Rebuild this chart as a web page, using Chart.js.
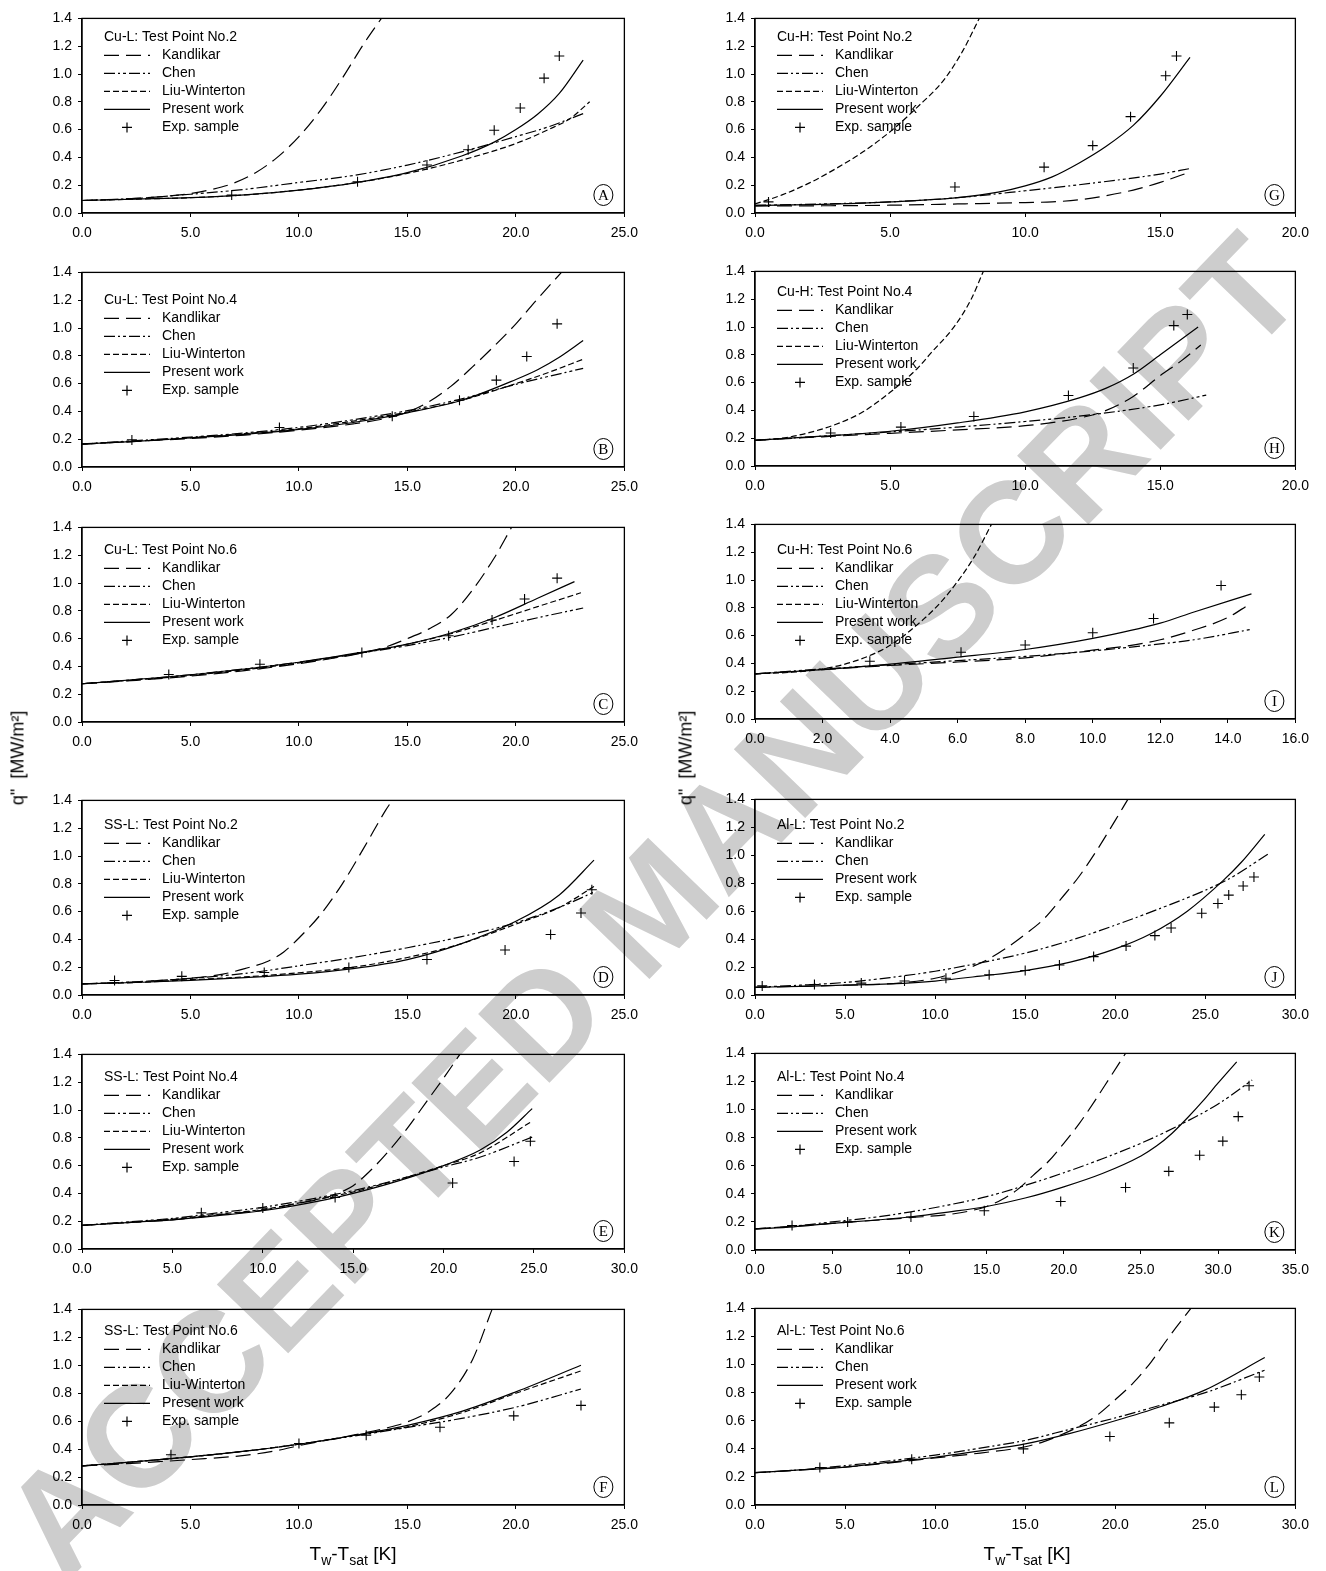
<!DOCTYPE html>
<html>
<head>
<meta charset="utf-8">
<script src="https://cdn.jsdelivr.net/npm/chart.js@4.4.1/dist/chart.umd.min.js"></script>
<style>
  html, body { margin: 0; padding: 0; background: #fff; }
  body { width: 1326px; height: 1571px; position: relative; overflow: hidden;
         font-family: "Liberation Sans", Arial, Helvetica, sans-serif; }
  canvas { position: absolute; z-index: 2; }
  .wm { position: absolute; left: 652px; top: 906px; z-index: 1; white-space: nowrap;
        font: bold 144px "Liberation Sans", Arial, sans-serif; color: #cdcdcd;
        transform: translate(-50%, -50%) rotate(-46deg); }
  .ytitle { position: absolute; z-index: 3; white-space: nowrap; font-size: 18px; color: #000;
            transform: translate(-50%, -50%) rotate(-90deg); }
  .xtitle { position: absolute; z-index: 3; white-space: nowrap; font-size: 19px; color: #000;
            transform: translate(-50%, -50%); }
  .xtitle sub { font-size: 14px; vertical-align: -5px; }
</style>
</head>
<body>
<div class="wm">ACCEPTED MANUSCRIPT</div>
<div class="ytitle" style="left:18px; top:758px;">q"&nbsp; [MW/m²]</div>
<div class="ytitle" style="left:686px; top:758px;">q"&nbsp; [MW/m²]</div>
<div class="xtitle" style="left:353px; top:1555px;">T<sub>w</sub>-T<sub>sat</sub> [K]</div>
<div class="xtitle" style="left:1027px; top:1555px;">T<sub>w</sub>-T<sub>sat</sub> [K]</div>

<script>
// ---- heat flux q" [MW/m2] versus wall superheat Tw-Tsat [K], pairs of [dT, q] ----

// Cu-L, test point 2
const A_kand = [[0,0.09],[2.5,0.105],[5,0.14],[6,0.17],[7,0.215],[8,0.29],[9,0.4],[10,0.55],[11,0.74],[12,0.97],[13,1.22],[13.8,1.4]];
const A_chen = [[0,0.09],[2.5,0.105],[5,0.135],[7.5,0.17],[10,0.22],[12.5,0.27],[15,0.345],[17.5,0.44],[20,0.55],[21.5,0.62],[23.1,0.715]];
const A_lw   = [[0,0.09],[2.5,0.1],[5,0.11],[7.5,0.13],[10,0.165],[12.5,0.215],[15,0.285],[17.5,0.38],[20,0.5],[21.5,0.6],[22.5,0.68],[23.4,0.8]];
const A_pw   = [[0,0.09],[2.5,0.1],[5,0.11],[7.5,0.13],[10,0.165],[12.5,0.215],[15,0.29],[17.5,0.41],[19,0.51],[20,0.6],[21,0.71],[22,0.86],[23.1,1.1]];
const A_exp  = [[6.9,0.13],[12.7,0.225],[15.9,0.345],[17.8,0.455],[19.0,0.595],[20.2,0.755],[21.3,0.97],[22.0,1.13]];

// Cu-L, test point 4
const B_kand = [[0,0.165],[2.5,0.185],[5,0.205],[7.5,0.23],[10,0.265],[12.5,0.31],[14,0.35],[15,0.395],[16,0.47],[17,0.58],[18,0.72],[19,0.87],[20,1.03],[21,1.21],[22.1,1.4]];
const B_chen = [[0,0.165],[2.5,0.19],[5,0.215],[7.5,0.245],[10,0.285],[12.5,0.34],[15,0.405],[17.5,0.49],[20,0.595],[23.1,0.71]];
const B_lw   = [[0,0.165],[2.5,0.185],[5,0.21],[7.5,0.24],[10,0.275],[12.5,0.33],[15,0.395],[17.5,0.48],[20,0.6],[21.5,0.68],[23.1,0.775]];
const B_pw   = [[0,0.165],[2.5,0.185],[5,0.21],[7.5,0.235],[10,0.27],[12.5,0.32],[15,0.39],[17.5,0.48],[20,0.63],[21,0.7],[22,0.79],[23.1,0.91]];
const B_exp  = [[2.3,0.195],[9.1,0.284],[14.3,0.365],[17.4,0.48],[19.1,0.625],[20.5,0.795],[21.9,1.03]];

// Cu-L, test point 6
const C_kand = [[0,0.275],[2.5,0.3],[5,0.33],[7.5,0.37],[10,0.42],[12,0.47],[13,0.5],[14,0.54],[15,0.6],[16,0.67],[17,0.77],[18,0.95],[19,1.18],[19.8,1.4]];
const C_chen = [[0,0.275],[5,0.34],[10,0.43],[13,0.5],[15,0.55],[17,0.61],[19,0.68],[21,0.75],[23.1,0.82]];
const C_lw   = [[0,0.275],[5,0.335],[10,0.425],[13,0.5],[15,0.56],[17,0.635],[19,0.73],[21,0.83],[23,0.93]];
const C_pw   = [[0,0.275],[5,0.34],[10,0.43],[13,0.505],[15,0.56],[17,0.64],[19,0.75],[21,0.89],[22.7,1.01]];
const C_exp  = [[4.0,0.342],[8.2,0.416],[12.9,0.5],[16.9,0.62],[18.9,0.734],[20.4,0.885],[21.9,1.035]];

// SS-L, test point 2
const D_kand = [[0,0.08],[2.5,0.095],[5,0.12],[6.5,0.15],[7.5,0.19],[8.6,0.245],[9.3,0.31],[10,0.41],[11,0.58],[12,0.8],[13,1.06],[14,1.33],[14.3,1.4]];
const D_chen = [[0,0.08],[2.5,0.095],[5,0.12],[7.5,0.155],[10,0.21],[12.5,0.27],[15,0.34],[17.5,0.42],[20,0.52],[22,0.63],[23.6,0.74]];
const D_lw   = [[0,0.08],[2.5,0.09],[5,0.11],[7.5,0.13],[10,0.16],[12.5,0.2],[15,0.27],[17.5,0.37],[20,0.51],[22,0.63],[23.6,0.78]];
const D_pw   = [[0,0.08],[2.5,0.09],[5,0.105],[7.5,0.125],[10,0.15],[12.5,0.19],[15,0.255],[17.5,0.37],[20,0.53],[22,0.72],[23.6,0.97]];
const D_exp  = [[1.5,0.104],[4.6,0.134],[8.4,0.162],[12.3,0.197],[15.9,0.255],[19.5,0.324],[21.6,0.435],[23.0,0.59],[23.5,0.757]];

// SS-L, test point 4
const E_kand = [[0,0.17],[2.5,0.19],[5,0.21],[7.5,0.245],[10,0.28],[12,0.33],[13.5,0.37],[14.5,0.42],[15,0.455],[16,0.57],[17,0.71],[18,0.87],[19,1.05],[20,1.23],[20.9,1.4]];
const E_chen = [[0,0.17],[2.5,0.195],[5,0.22],[7.5,0.26],[10,0.3],[13.5,0.38],[15,0.42],[17.5,0.5],[20,0.59],[22,0.66],[24.9,0.805]];
const E_lw   = [[0,0.17],[2.5,0.19],[5,0.215],[7.5,0.25],[10,0.285],[13.5,0.37],[15,0.41],[17.5,0.5],[20,0.6],[22,0.69],[24.9,0.92]];
const E_pw   = [[0,0.17],[2.5,0.19],[5,0.21],[7.5,0.24],[10,0.275],[13.5,0.355],[15,0.4],[17.5,0.49],[20,0.6],[22,0.71],[23.5,0.84],[24.9,1.01]];
const E_exp  = [[6.6,0.26],[10.0,0.295],[14.0,0.37],[20.5,0.475],[23.9,0.63],[24.8,0.775]];

// SS-L, test point 6
const F_kand = [[0,0.28],[2.5,0.3],[5,0.325],[7.5,0.355],[9,0.39],[10,0.425],[12.5,0.5],[14,0.55],[15,0.595],[16,0.67],[17,0.8],[18,1.04],[18.9,1.4]];
const F_chen = [[0,0.28],[2.5,0.31],[5,0.345],[7.5,0.385],[10,0.435],[13,0.505],[15,0.555],[17.5,0.62],[20,0.7],[23,0.83]];
const F_lw   = [[0,0.28],[2.5,0.31],[5,0.345],[7.5,0.385],[10,0.435],[13,0.51],[15,0.56],[17.5,0.66],[20,0.8],[23,0.96]];
const F_pw   = [[0,0.28],[2.5,0.31],[5,0.345],[7.5,0.385],[10,0.435],[13,0.51],[15,0.57],[17.5,0.67],[20,0.81],[23,1.0]];
const F_exp  = [[4.1,0.36],[10.0,0.44],[13.1,0.5],[16.5,0.557],[19.9,0.638],[23.0,0.713]];

// Cu-H, test point 2
const G_kand = [[0,0.05],[2.5,0.052],[5,0.056],[7.5,0.065],[10,0.075],[11,0.08],[12,0.095],[13,0.125],[14,0.165],[15,0.22],[16.1,0.295]];
const G_chen = [[0,0.055],[2.5,0.065],[5,0.08],[7.5,0.11],[10,0.16],[12.5,0.215],[15,0.28],[16.1,0.32]];
const G_lw   = [[0,0.065],[1,0.13],[2,0.215],[3,0.32],[4,0.44],[5,0.585],[6,0.76],[7,0.96],[7.7,1.17],[8.3,1.4]];
const G_pw   = [[0,0.055],[2.5,0.062],[5,0.08],[7.5,0.11],[9,0.15],[10,0.195],[11,0.26],[12,0.36],[13,0.48],[14,0.63],[15,0.84],[16.1,1.12]];
const G_exp  = [[0.5,0.08],[7.4,0.187],[10.7,0.33],[12.5,0.485],[13.9,0.693],[15.2,0.987],[15.6,1.13]];

// Cu-H, test point 4
const H_kand = [[0,0.185],[2.5,0.21],[5,0.235],[7.5,0.26],[10,0.29],[12,0.345],[13,0.4],[14,0.5],[15,0.65],[15.8,0.76],[16.5,0.87]];
const H_chen = [[0,0.185],[2.5,0.215],[5,0.245],[7.5,0.28],[10,0.32],[12.5,0.37],[15,0.44],[16.7,0.51]];
const H_lw   = [[0,0.185],[1,0.2],[2,0.24],[3,0.3],[4,0.39],[5,0.53],[6,0.7],[6.5,0.81],[7.4,1.01],[8,1.2],[8.45,1.4]];
const H_pw   = [[0,0.185],[2.5,0.215],[5,0.25],[7.5,0.31],[10,0.39],[12,0.49],[13,0.56],[14,0.66],[15,0.8],[16.4,1.0]];
const H_exp  = [[2.8,0.237],[5.4,0.28],[8.1,0.356],[11.6,0.507],[14.0,0.705],[15.5,1.01],[16.0,1.09]];

// Cu-H, test point 6
const I_kand = [[0,0.325],[2,0.355],[4,0.385],[6,0.41],[8,0.44],[10,0.495],[11,0.525],[12,0.57],[13,0.64],[14,0.73],[14.6,0.82]];
const I_chen = [[0,0.325],[2,0.36],[4,0.39],[6,0.42],[8,0.45],[10,0.49],[12,0.54],[13,0.57],[14.7,0.645]];
const I_lw   = [[0,0.325],[1,0.335],[2,0.36],[3,0.42],[4,0.53],[5,0.72],[5.5,0.84],[6,0.99],[6.5,1.17],[7.0,1.4]];
const I_pw   = [[0,0.325],[2,0.355],[4,0.395],[6,0.445],[8,0.5],[10,0.58],[12,0.69],[13,0.77],[14.7,0.9]];
const I_exp  = [[3.4,0.415],[6.1,0.48],[8.0,0.532],[10.0,0.62],[11.8,0.723],[13.8,0.96]];

// Al-L, test point 2
const J_kand = [[0,0.055],[2.5,0.062],[5,0.07],[8,0.085],[10,0.12],[11,0.155],[12,0.2],[13,0.26],[14,0.34],[15,0.435],[16,0.54],[17,0.69],[18,0.85],[19,1.04],[20,1.25],[20.7,1.4]];
const J_chen = [[0,0.055],[2.5,0.07],[5,0.09],[7.5,0.125],[10,0.17],[12.5,0.23],[15,0.3],[17.5,0.39],[20,0.5],[22.5,0.62],[25,0.75],[26.3,0.83],[28.5,1.01]];
const J_pw   = [[0,0.055],[2.5,0.062],[5,0.07],[7.5,0.08],[10,0.1],[12.5,0.135],[15,0.175],[17.5,0.235],[20,0.33],[22,0.44],[24,0.6],[26,0.82],[27,0.95],[28.3,1.15]];
const J_exp  = [[0.4,0.065],[3.3,0.075],[5.9,0.085],[8.3,0.1],[10.6,0.12],[13.0,0.145],[15.0,0.175],[16.9,0.215],[18.8,0.275],[20.6,0.35],[22.2,0.425],[23.1,0.48],[24.8,0.585],[25.7,0.655],[26.3,0.715],[27.1,0.78],[27.7,0.845]];

// Al-L, test point 4
const K_kand = [[0,0.15],[5,0.19],[10,0.23],[13,0.26],[15,0.31],[16,0.36],[17,0.43],[18,0.53],[19,0.63],[20,0.76],[21,0.9],[22,1.06],[23,1.23],[24,1.4]];
const K_chen = [[0,0.15],[2.5,0.17],[5,0.2],[7.5,0.23],[10,0.27],[12.5,0.32],[15,0.38],[17.5,0.46],[20,0.55],[22.5,0.65],[25,0.76],[27.5,0.89],[30,1.04],[32.2,1.21]];
const K_pw   = [[0,0.15],[2.5,0.165],[5,0.19],[7.5,0.21],[10,0.235],[12.5,0.27],[15,0.31],[17.5,0.37],[20,0.45],[22.5,0.545],[25,0.67],[26,0.74],[27,0.83],[28,0.94],[29,1.06],[30,1.19],[31.2,1.34]];
const K_exp  = [[2.4,0.175],[6.0,0.2],[10.1,0.235],[14.85,0.28],[19.8,0.345],[24.0,0.445],[26.8,0.56],[28.8,0.675],[30.3,0.775],[31.3,0.95],[32.0,1.17]];

// Al-L, test point 6
const L_kand = [[0,0.23],[2.5,0.25],[5,0.27],[7.5,0.3],[10,0.335],[12.5,0.37],[15,0.415],[16,0.45],[17,0.5],[18,0.56],[19,0.64],[20,0.75],[21,0.87],[22,1.02],[23,1.2],[24.2,1.4]];
const L_chen = [[0,0.23],[2.5,0.25],[5,0.28],[7.5,0.315],[10,0.355],[12.5,0.405],[15,0.46],[17.5,0.54],[20,0.62],[22.5,0.71],[25,0.8],[28.3,0.96]];
const L_pw   = [[0,0.23],[2.5,0.25],[5,0.27],[7.5,0.305],[10,0.34],[12.5,0.385],[15,0.435],[17.5,0.51],[20,0.6],[22.5,0.7],[25,0.82],[28.3,1.05]];
const L_exp  = [[3.6,0.267],[8.7,0.325],[14.9,0.4],[19.7,0.488],[23.0,0.585],[25.5,0.697],[27.0,0.785],[28.0,0.912]];

// ---- panel descriptions ----
const PANELS = [
  { id:'A', title:'Cu-L: Test Point No.2',  xMax:25, xStep:5, col:0, row:0, tOff:19, kand:A_kand, chen:A_chen, lw:A_lw, pw:A_pw, exp:A_exp },
  { id:'B', title:'Cu-L: Test Point No.4',  xMax:25, xStep:5, col:0, row:1, tOff:28, kand:B_kand, chen:B_chen, lw:B_lw, pw:B_pw, exp:B_exp },
  { id:'C', title:'Cu-L: Test Point No.6',  xMax:25, xStep:5, col:0, row:2, tOff:23, kand:C_kand, chen:C_chen, lw:C_lw, pw:C_pw, exp:C_exp },
  { id:'D', title:'SS-L: Test Point No.2',  xMax:25, xStep:5, col:0, row:3, tOff:25, kand:D_kand, chen:D_chen, lw:D_lw, pw:D_pw, exp:D_exp },
  { id:'E', title:'SS-L: Test Point No.4',  xMax:30, xStep:5, col:0, row:4, tOff:23, kand:E_kand, chen:E_chen, lw:E_lw, pw:E_pw, exp:E_exp },
  { id:'F', title:'SS-L: Test Point No.6',  xMax:25, xStep:5, col:0, row:5, tOff:22, kand:F_kand, chen:F_chen, lw:F_lw, pw:F_pw, exp:F_exp },
  { id:'G', title:'Cu-H: Test Point No.2',  xMax:20, xStep:5, col:1, row:0, tOff:19, kand:G_kand, chen:G_chen, lw:G_lw, pw:G_pw, exp:G_exp },
  { id:'H', title:'Cu-H: Test Point No.4',  xMax:20, xStep:5, col:1, row:1, tOff:21, kand:H_kand, chen:H_chen, lw:H_lw, pw:H_pw, exp:H_exp },
  { id:'I', title:'Cu-H: Test Point No.6',  xMax:16, xStep:2, col:1, row:2, tOff:26, kand:I_kand, chen:I_chen, lw:I_lw, pw:I_pw, exp:I_exp },
  { id:'J', title:'Al-L: Test Point No.2',  xMax:30, xStep:5, col:1, row:3, tOff:26, kand:J_kand, chen:J_chen, lw:null, pw:J_pw, exp:J_exp },
  { id:'K', title:'Al-L: Test Point No.4',  xMax:35, xStep:5, col:1, row:4, tOff:24, kand:K_kand, chen:K_chen, lw:null, pw:K_pw, exp:K_exp },
  { id:'L', title:'Al-L: Test Point No.6',  xMax:30, xStep:5, col:1, row:5, tOff:23, kand:L_kand, chen:L_chen, lw:null, pw:L_pw, exp:L_exp }
];

// plot-area placement on the page
const COL_X = [[82, 626], [755, 1297]];
const ROW_Y = [
  [[14,213],[268,467],[523,722],[796,995],[1050,1249],[1305,1505]],
  [[14,213],[267,466],[520,719],[795,995],[1049,1250],[1304,1505]]
];
const PAD_L = 70, PAD_T = 10, PAD_R = 20, PAD_B = 40;

const FONT = "'Liberation Sans', Arial, Helvetica, sans-serif";
Chart.defaults.font.family = FONT;
Chart.defaults.font.size = 14;
Chart.defaults.color = '#000';
Chart.defaults.animation = false;

const LINE_STYLES = {
  kand: { label: 'Kandlikar',     dash: [15, 7] },
  chen: { label: 'Chen',          dash: [11, 3, 2, 3, 3, 3] },
  lw:   { label: 'Liu-Winterton', dash: [6, 3] },
  pw:   { label: 'Present work',  dash: [] }
};

// frame, inset legend and the circled panel letter
const panelDecor = {
  id: 'panelDecor',
  afterDraw(chart, args, opts) {
    const { ctx, chartArea: a } = chart;
    ctx.save();
    ctx.strokeStyle = '#000';
    ctx.lineWidth = 1.3;
    ctx.setLineDash([]);
    ctx.strokeRect(a.left, a.top, a.right - a.left, a.bottom - a.top);

    ctx.fillStyle = '#000';
    ctx.font = '14px ' + FONT;
    ctx.textBaseline = 'middle';
    ctx.textAlign = 'left';
    let y = a.top + opts.tOff;
    ctx.fillText(opts.title, a.left + 22, y);
    chart.data.datasets.forEach(ds => {
      y += 18;
      ctx.lineWidth = 1.2;
      if (ds.showLine === false) {
        ctx.setLineDash([]);
        ctx.beginPath();
        ctx.moveTo(a.left + 40, y); ctx.lineTo(a.left + 50, y);
        ctx.moveTo(a.left + 45, y - 5); ctx.lineTo(a.left + 45, y + 5);
        ctx.stroke();
      } else {
        ctx.setLineDash(ds.borderDash || []);
        ctx.beginPath();
        ctx.moveTo(a.left + 22, y); ctx.lineTo(a.left + 68, y);
        ctx.stroke();
      }
      ctx.fillText(ds.label, a.left + 80, y);
    });

    const cx = a.right - 21, cy = a.bottom - 18;
    ctx.setLineDash([]);
    ctx.lineWidth = 1;
    ctx.beginPath();
    ctx.ellipse(cx, cy, 9.5, 10.5, 0, 0, Math.PI * 2);
    ctx.stroke();
    ctx.font = "15px 'Liberation Serif', 'Times New Roman', serif";
    ctx.textAlign = 'center';
    ctx.fillText(opts.letter, cx, cy + 1);
    ctx.restore();
  }
};

function toPts(arr) { return arr.map(p => ({ x: p[0], y: p[1] })); }

PANELS.forEach(p => {
  const [L, R] = COL_X[p.col];
  const [T, B] = ROW_Y[p.col][p.row];
  const cv = document.createElement('canvas');
  const w = (R - L) + PAD_L + PAD_R, h = (B - T) + PAD_T + PAD_B;
  cv.width = w; cv.height = h;
  cv.style.width = w + 'px'; cv.style.height = h + 'px';
  cv.style.left = (L - PAD_L) + 'px'; cv.style.top = (T - PAD_T) + 'px';
  document.body.appendChild(cv);

  const datasets = [];
  ['kand', 'chen', 'lw', 'pw'].forEach(k => {
    if (!p[k]) return;
    datasets.push({
      label: LINE_STYLES[k].label,
      data: toPts(p[k]),
      borderColor: '#000',
      borderWidth: 1.2,
      borderDash: LINE_STYLES[k].dash,
      pointRadius: 0,
      fill: false,
      cubicInterpolationMode: 'monotone'
    });
  });
  datasets.push({
    label: 'Exp. sample',
    data: toPts(p.exp),
    showLine: false,
    pointStyle: 'cross',
    pointRadius: 5,
    pointBorderWidth: 1.1,
    borderColor: '#000',
    backgroundColor: '#000'
  });

  new Chart(cv, {
    type: 'line',
    data: { datasets },
    options: {
      responsive: false,
      maintainAspectRatio: false,
      layout: { padding: { top: PAD_T, right: PAD_R, left: 0, bottom: 0 } },
      plugins: {
        legend: { display: false },
        tooltip: { enabled: false },
        panelDecor: { title: p.title, letter: p.id, tOff: p.tOff }
      },
      scales: {
        x: {
          type: 'linear', min: 0, max: p.xMax,
          afterFit(s) { s.height = PAD_B; },
          border: { display: true, color: '#000', width: 1.3 },
          grid: { display: true, drawOnChartArea: false, drawTicks: true, tickLength: 4, color: '#000' },
          ticks: { stepSize: p.xStep, padding: 8, maxRotation: 0, callback: v => v.toFixed(1) }
        },
        y: {
          type: 'linear', min: 0, max: 1.4,
          afterFit(s) { s.width = PAD_L; },
          border: { display: true, color: '#000', width: 1.3 },
          grid: { display: true, drawOnChartArea: false, drawTicks: true, tickLength: 4, color: '#000' },
          ticks: { stepSize: 0.2, padding: 6, callback: v => v.toFixed(1) }
        }
      }
    },
    plugins: [panelDecor]
  });
});
</script>
</body>
</html>
